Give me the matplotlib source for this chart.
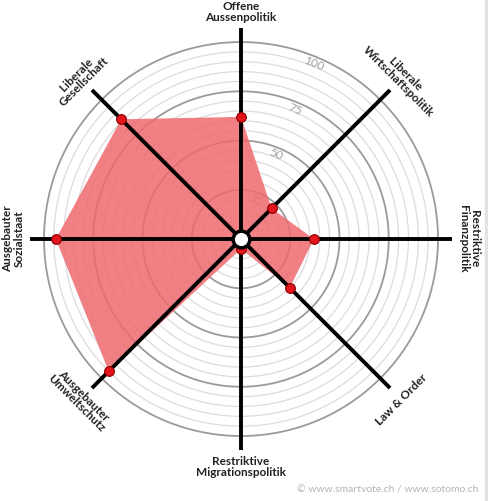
import numpy as np
import matplotlib.pyplot as plt

# axes clockwise from top
labels = ["Offene\nAussenpolitik", "Liberale\nWirtschaftspolitik", "Restriktive\nFinanzpolitik",
          "Law & Order", "Restriktive\nMigrationspolitik", "Ausgebauter\nUmweltschutz",
          "Ausgebauter\nSozialstaat", "Liberale\nGesellschaft"]
values = [62, 22, 37, 35, 5, 95, 94, 86]
ring_ticks = [25, 50, 75, 100]

plt.rcParams['font.family'] = ['Lato', 'DejaVu Sans']

fig = plt.figure(figsize=(4.89, 5.01), dpi=100)
# light gray strip on the right edge
fig.patches.append(plt.Rectangle((485 / 489, 0), 4 / 489, 1, transform=fig.transFigure,
                                 color='#e3e3e3', zorder=0))

rmax = 110
ax = fig.add_axes([0.0497, 0.0904, 0.8863, 0.865], projection='polar')
ax.set_theta_zero_location('N')
ax.set_theta_direction(-1)
ax.set_ylim(0, rmax)
ax.grid(False)
ax.set_xticks([])
ax.set_yticks([])
ax.spines['polar'].set_visible(False)
ax.patch.set_alpha(0)

t = np.linspace(0, 2 * np.pi, 400)
for r in range(5, 101, 5):
    if r % 25 == 0:
        ax.plot(t, np.full_like(t, r), color='#9a9a9a', lw=1.3, zorder=1)
    else:
        ax.plot(t, np.full_like(t, r), color='#dcdcdc', lw=0.9, zorder=1)

for v in ring_ticks:
    ax.text(np.deg2rad(22.5), v - 3.5, str(v), color='#a0a0a0', fontsize=8.5,
            rotation=-22.5, ha='center', va='center', zorder=1.5)

angles = np.deg2rad(np.arange(0, 360, 45))
ax.fill(np.append(angles, angles[0]), values + values[:1], color='#ef6a6e', alpha=0.85,
        lw=0, zorder=2)

for a in angles:
    ax.plot([a, a], [0, 107], color='black', lw=2.8, solid_capstyle='butt', zorder=3)

ax.plot(angles, values, 'o', color='#e3141b', markeredgecolor='#8a0000', markersize=7,
        markeredgewidth=0.8, zorder=4)
ax.plot([0], [0], 'o', color='white', markeredgecolor='black', markersize=12,
        markeredgewidth=2.5, zorder=5)

rots = [0, -45, -90, 45, 0, -45, 90, 45]
for a, lab, rot in zip(angles, labels, rots):
    ax.text(a, 115.5, lab, ha='center', va='center', rotation=rot, fontsize=8.5,
            fontweight='bold', color='#222222', linespacing=1.0,
            multialignment='center', rotation_mode='anchor')

fig.text(478 / 489, 1 - 490 / 501, "\u00a9 www.smartvote.ch / www.sotomo.ch", ha='right',
         va='center', fontsize=7.5, color='#b5b5b5')

fig.savefig('out.png', dpi=100)
